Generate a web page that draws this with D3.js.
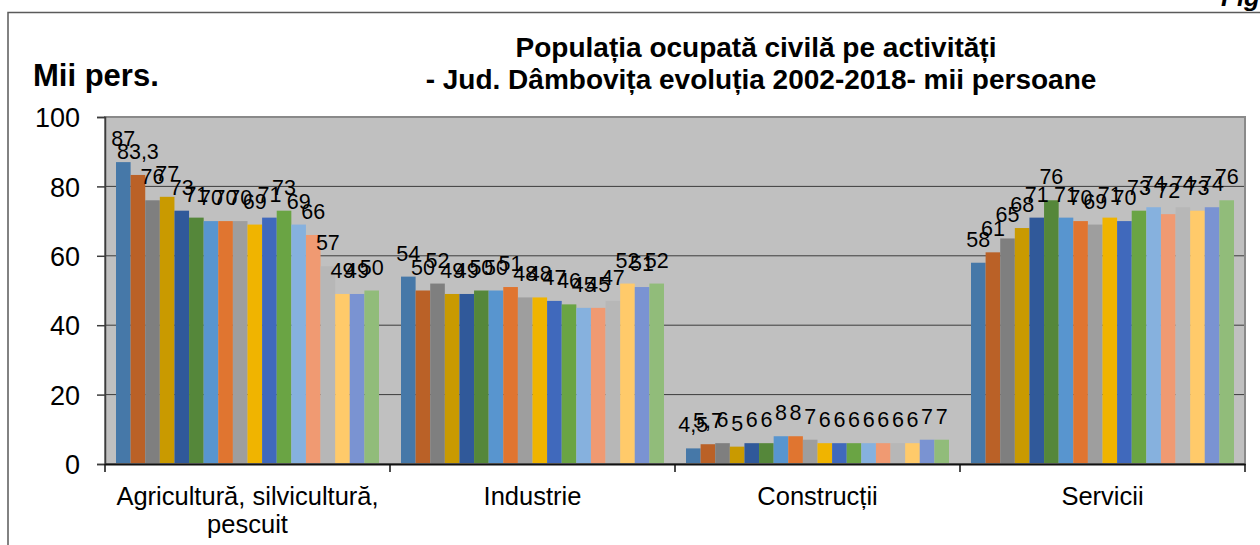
<!DOCTYPE html>
<html>
<head>
<meta charset="utf-8">
<script src="https://cdn.jsdelivr.net/npm/d3@7"></script>
<style>
body { margin: 0; background: #fff; overflow: hidden; }
text { font-family: "Liberation Sans", Arial, sans-serif; fill: #000; }
</style>
</head>
<body>
<svg id="chart"></svg>
<script>
// categories on the x axis, each label split in lines
const categories = ["Agricultură, silvicultură, pescuit", "Industrie", "Construcții", "Servicii"];
const categoryLines = [["Agricultură, silvicultură,", "pescuit"], ["Industrie"], ["Construcții"], ["Servicii"]];

// one value per series (18 bars per group)
const agricultura = [87, 83.3, 76, 77, 73, 71, 70, 70, 70, 69, 71, 73, 69, 66, 57, 49, 49, 50];
const industrie   = [54, 50, 52, 49, 49, 50, 50, 51, 48, 48, 47, 46, 45, 45, 47, 52, 51, 52];
const constructii = [4.5, 5.7, 6, 5, 6, 6, 8, 8, 7, 6, 6, 6, 6, 6, 6, 6, 7, 7];
const servicii    = [58, 61, 65, 68, 71, 76, 71, 70, 69, 71, 70, 73, 74, 72, 74, 73, 74, 76];

const yTicks = [0, 20, 40, 60, 80, 100];

const colors = ["#4678a8", "#ba6127", "#7f7f7f", "#c99a00", "#30599a", "#55873a",
                "#5895cf", "#e07530", "#9e9e9e", "#f0b400", "#4069bc", "#6aa444",
                "#86b1de", "#f09a72", "#b7b7b7", "#ffca6a", "#7a93d2", "#91bc7a"];

const groups = [agricultura, industrie, constructii, servicii];
const seriesIdx = agricultura.map((d, i) => i);

const width = 1260, height = 545;
const margin = ({top: 117, right: 15, bottom: 81, left: 105});

const svg = d3.select("#chart")
    .attr("width", width)
    .attr("height", height);

// outer frame of the chart object (right/bottom fall outside the window)
svg.append("path")
    .attr("d", `M8,${height} V12.5 H${width}`)
    .attr("fill", "none")
    .attr("stroke", "#5a5a5a")
    .attr("stroke-width", 1.5);

svg.append("text")
    .attr("x", 1221).attr("y", 6)
    .style("font-size", "26px")
    .style("font-weight", "bold")
    .style("font-style", "italic")
    .text("Fig");

const x0 = d3.scaleBand()
    .domain(categories)
    .range([margin.left, width - margin.right]);

const gap = 11;
const x1 = d3.scaleBand()
    .domain(seriesIdx)
    .range([gap, x0.bandwidth() - gap]);

const yScale = d3.scaleLinear()
    .domain([0, 100])
    .range([height - margin.bottom, margin.top]);

// plot area
svg.append("rect")
    .attr("x", margin.left)
    .attr("y", margin.top)
    .attr("width", width - margin.right - margin.left)
    .attr("height", yScale(0) - margin.top)
    .attr("fill", "#c0c0c0");

svg.append("g")
    .selectAll("line")
    .data(yTicks.filter(t => t > 0 && t < 100))
    .join("line")
    .attr("x1", margin.left)
    .attr("x2", width - margin.right)
    .attr("y1", d => yScale(d))
    .attr("y2", d => yScale(d))
    .attr("stroke", "#3c3c3c")
    .attr("stroke-width", 1);

// bars
const group_gs = svg.append("g")
    .selectAll("g")
    .data(groups)
    .join("g")
    .attr("transform", (d, i) => `translate(${x0(categories[i])},0)`);

group_gs.selectAll("rect")
    .data(d => d)
    .join("rect")
    .attr("x", (d, i) => x1(i))
    .attr("width", x1.bandwidth())
    .attr("y", d => yScale(d))
    .attr("height", d => yScale(0) - yScale(d))
    .attr("fill", (d, i) => colors[i]);

// plot border on top of the bars
svg.append("rect")
    .attr("x", margin.left)
    .attr("y", margin.top)
    .attr("width", width - margin.right - margin.left)
    .attr("height", yScale(0) - margin.top)
    .attr("fill", "none")
    .attr("stroke", "#8a8a8a")
    .attr("stroke-width", 2);

group_gs.selectAll("text")
    .data(d => d)
    .join("text")
    .attr("x", (d, i) => x1(i) + x1.bandwidth() / 2)
    .attr("y", d => yScale(d) - 16)
    .attr("text-anchor", "middle")
    .style("font-size", "21.5px")
    .text(d => String(d).replace(".", ","));

// y axis
const yAxis = svg.append("g")
    .attr("transform", `translate(${margin.left},0)`)
    .call(d3.axisLeft(yScale).tickValues(yTicks).tickSize(8).tickPadding(17));
yAxis.select(".domain").attr("stroke", "#3c3c3c").attr("stroke-width", 1.5);
yAxis.selectAll(".tick line").attr("stroke", "#3c3c3c").attr("stroke-width", 1.5);
yAxis.selectAll("text")
    .style("font-size", "27px")
    .attr("font-family", null)
    .attr("dy", "0.36em");

// x axis: ticks sit on the group boundaries
const xAxis = svg.append("g")
    .attr("transform", `translate(0,${yScale(0)})`)
    .call(d3.axisBottom(x0).tickSize(0).tickPadding(0));
xAxis.select(".domain").attr("stroke", "#111").attr("stroke-width", 2);
xAxis.selectAll(".tick text")
    .attr("font-family", null)
    .attr("y", 41)
    .attr("dy", null)
    .style("font-size", "25.5px")
    .text(null)
    .each(function(d, i) {
        d3.select(this).selectAll("tspan")
            .data(categoryLines[i])
            .join("tspan")
            .attr("x", 0)
            .attr("dy", (t, j) => j === 0 ? 0 : 28)
            .text(t => t);
    });

const bounds = categories.map(c => x0(c)).concat([x0.range()[1]]);
xAxis.selectAll(".bound")
    .data(bounds)
    .join("line")
    .attr("class", "bound")
    .attr("x1", d => d).attr("x2", d => d)
    .attr("y1", 0).attr("y2", 8)
    .attr("stroke", "#111")
    .attr("stroke-width", 1.5);

// titles
svg.append("text")
    .attr("x", 33).attr("y", 86)
    .style("font-size", "31px")
    .style("font-weight", "bold")
    .text("Mii pers.");

const title = svg.append("text")
    .attr("text-anchor", "middle")
    .style("font-size", "28px")
    .style("font-weight", "bold");
title.append("tspan").attr("x", 756).attr("y", 57).text("Populația ocupată civilă pe activități");
title.append("tspan").attr("x", 761).attr("y", 89).text("- Jud. Dâmbovița evoluția 2002-2018- mii persoane");
</script>
</body>
</html>
